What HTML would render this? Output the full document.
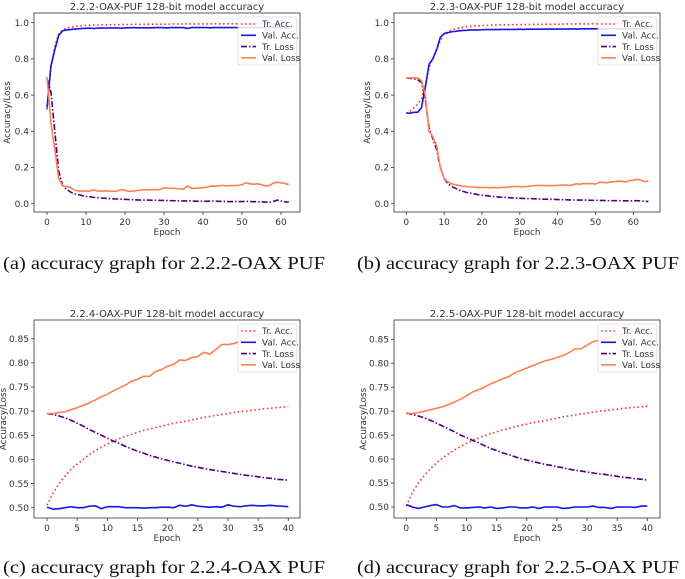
<!DOCTYPE html>
<html><head><meta charset="utf-8"><style>
html,body{margin:0;padding:0;background:#fff;width:685px;height:579px;overflow:hidden}
svg{position:absolute;left:0;top:0}
text{font-family:"DejaVu Sans","Liberation Sans",sans-serif;fill:#333}
.cap{font-family:"Liberation Serif",serif;font-size:18px;fill:#111}
</style></head><body>
<svg id="fig" width="685" height="579"></svg>
<script>
// Panel a (2.2.2)
const aTrAcc=[0.52,0.75,0.87,0.94,0.96,0.97,0.975,0.978,0.981,0.983,0.985,0.986,0.987,0.987,0.988,0.988,0.989,0.989,0.99,0.99,0.99,0.99,0.991,0.991,0.991,0.991,0.992,0.992,0.992,0.992,0.992,0.992,0.993,0.993,0.993,0.993,0.993,0.993,0.993,0.993,0.993,0.993,0.994,0.994,0.994,0.994,0.994,0.994,0.994,0.994,0.994,0.994,0.994,0.994,0.995,0.995,0.995,0.995,0.995,0.995,0.995,0.995,0.995];
const aValAcc=[0.53,0.76,0.85,0.93,0.955,0.96,0.962,0.965,0.966,0.968,0.969,0.97,0.968,0.97,0.971,0.97,0.971,0.971,0.971,0.97,0.971,0.972,0.973,0.972,0.972,0.972,0.972,0.972,0.973,0.973,0.972,0.972,0.973,0.973,0.973,0.973,0.968,0.973,0.973,0.973,0.973,0.973,0.972,0.973,0.973,0.973,0.973,0.973,0.973,0.973,0.973,0.972,0.973,0.973,0.973,0.973,0.972,0.973,0.973,0.973,0.972,0.972,0.972];
const aTrLoss=[0.69,0.62,0.40,0.18,0.10,0.08,0.065,0.055,0.05,0.045,0.04,0.038,0.035,0.033,0.031,0.03,0.028,0.027,0.026,0.025,0.024,0.023,0.022,0.021,0.02,0.02,0.02,0.019,0.019,0.018,0.018,0.017,0.017,0.016,0.016,0.015,0.015,0.015,0.014,0.014,0.014,0.013,0.015,0.014,0.013,0.013,0.012,0.012,0.012,0.012,0.012,0.013,0.012,0.011,0.011,0.01,0.009,0.007,0.012,0.02,0.015,0.01,0.01];
const aValLoss=[0.70,0.45,0.30,0.14,0.10,0.095,0.09,0.075,0.07,0.07,0.07,0.07,0.077,0.07,0.07,0.071,0.07,0.068,0.07,0.078,0.074,0.068,0.07,0.073,0.075,0.077,0.076,0.078,0.077,0.078,0.088,0.086,0.085,0.084,0.082,0.08,0.098,0.085,0.085,0.087,0.088,0.092,0.098,0.096,0.098,0.102,0.098,0.1,0.1,0.102,0.105,0.115,0.11,0.108,0.11,0.105,0.098,0.1,0.113,0.12,0.115,0.112,0.105];
// Panel b (2.2.3)
const bTrAcc=[0.50,0.51,0.53,0.55,0.58,0.65,0.75,0.80,0.85,0.90,0.94,0.95,0.96,0.965,0.97,0.975,0.978,0.98,0.982,0.983,0.984,0.985,0.986,0.987,0.987,0.988,0.988,0.989,0.989,0.99,0.99,0.99,0.99,0.991,0.991,0.991,0.991,0.992,0.992,0.992,0.992,0.992,0.993,0.993,0.993,0.993,0.993,0.993,0.993,0.994,0.994,0.994,0.994,0.994,0.994,0.994,0.994,0.995,0.995,0.995,0.995,0.995,0.995,0.995,0.995];
const bValAcc=[0.50,0.50,0.505,0.505,0.53,0.64,0.77,0.80,0.85,0.92,0.94,0.945,0.95,0.952,0.955,0.957,0.958,0.96,0.96,0.96,0.961,0.962,0.962,0.962,0.962,0.963,0.963,0.963,0.963,0.963,0.964,0.963,0.964,0.964,0.964,0.964,0.964,0.965,0.965,0.964,0.965,0.965,0.965,0.965,0.966,0.965,0.966,0.966,0.966,0.966,0.966,0.966,0.966,0.967,0.966,0.966,0.966,0.966,0.967,0.967,0.966,0.967,0.967,0.967,0.967];
const bTrLoss=[0.695,0.693,0.69,0.685,0.67,0.58,0.42,0.36,0.30,0.20,0.14,0.11,0.095,0.085,0.075,0.068,0.062,0.058,0.054,0.05,0.047,0.045,0.042,0.04,0.038,0.036,0.035,0.034,0.032,0.031,0.03,0.029,0.028,0.028,0.027,0.026,0.025,0.025,0.024,0.024,0.023,0.022,0.022,0.021,0.021,0.02,0.02,0.02,0.019,0.019,0.018,0.018,0.018,0.017,0.017,0.017,0.017,0.016,0.016,0.016,0.016,0.017,0.015,0.014,0.012];
const bValLoss=[0.695,0.695,0.695,0.695,0.68,0.60,0.40,0.37,0.32,0.20,0.14,0.12,0.11,0.105,0.10,0.097,0.095,0.093,0.092,0.09,0.09,0.09,0.088,0.09,0.088,0.09,0.09,0.092,0.095,0.095,0.094,0.093,0.095,0.098,0.1,0.102,0.1,0.1,0.1,0.1,0.102,0.102,0.104,0.1,0.105,0.11,0.108,0.112,0.11,0.112,0.108,0.118,0.118,0.115,0.12,0.122,0.125,0.123,0.12,0.128,0.13,0.135,0.13,0.122,0.125];
// Panel c (2.2.4)
const cTrAcc=[0.505,0.53,0.55,0.565,0.58,0.59,0.60,0.61,0.618,0.625,0.632,0.638,0.643,0.648,0.652,0.656,0.66,0.663,0.666,0.669,0.672,0.675,0.677,0.679,0.682,0.684,0.687,0.689,0.691,0.693,0.695,0.697,0.699,0.70,0.702,0.703,0.705,0.706,0.707,0.708,0.71];
const cValAcc=[0.501,0.497,0.498,0.5,0.502,0.5,0.5,0.503,0.504,0.498,0.502,0.502,0.502,0.5,0.5,0.5,0.499,0.5,0.5,0.501,0.501,0.5,0.505,0.503,0.506,0.503,0.502,0.501,0.502,0.501,0.506,0.503,0.502,0.504,0.505,0.504,0.504,0.505,0.504,0.503,0.502];
const cTrLoss=[0.695,0.693,0.69,0.686,0.681,0.675,0.669,0.662,0.656,0.65,0.644,0.638,0.633,0.627,0.622,0.617,0.613,0.608,0.605,0.601,0.598,0.595,0.592,0.589,0.586,0.584,0.581,0.579,0.577,0.575,0.573,0.571,0.569,0.567,0.566,0.564,0.562,0.561,0.559,0.558,0.557];
const cValLoss=[0.695,0.695,0.697,0.699,0.703,0.707,0.712,0.717,0.723,0.73,0.735,0.742,0.748,0.754,0.762,0.766,0.772,0.772,0.782,0.786,0.793,0.797,0.806,0.805,0.811,0.813,0.822,0.818,0.828,0.838,0.838,0.84,0.845,0.85,0.855,0.86,0.86,0.862,0.865,0.868,0.87];
// Panel d (2.2.5)
const dTrAcc=[0.502,0.53,0.55,0.566,0.58,0.592,0.602,0.611,0.619,0.626,0.633,0.639,0.644,0.649,0.653,0.657,0.661,0.664,0.667,0.67,0.673,0.676,0.678,0.68,0.683,0.685,0.688,0.69,0.692,0.694,0.696,0.698,0.7,0.701,0.703,0.704,0.706,0.707,0.708,0.709,0.711];
const dValAcc=[0.505,0.5,0.497,0.5,0.503,0.505,0.5,0.5,0.503,0.498,0.498,0.499,0.5,0.498,0.5,0.497,0.498,0.5,0.5,0.498,0.498,0.5,0.497,0.5,0.5,0.5,0.497,0.498,0.5,0.5,0.5,0.502,0.499,0.499,0.497,0.5,0.5,0.5,0.499,0.502,0.502];
const dTrLoss=[0.696,0.693,0.69,0.686,0.681,0.675,0.669,0.663,0.657,0.65,0.645,0.639,0.634,0.628,0.622,0.618,0.613,0.609,0.605,0.601,0.598,0.595,0.592,0.589,0.587,0.584,0.582,0.579,0.577,0.575,0.573,0.571,0.569,0.568,0.566,0.564,0.562,0.561,0.559,0.558,0.556];
const dValLoss=[0.695,0.695,0.697,0.7,0.703,0.706,0.709,0.714,0.719,0.725,0.732,0.74,0.745,0.75,0.757,0.762,0.768,0.772,0.78,0.785,0.79,0.795,0.8,0.805,0.808,0.812,0.816,0.822,0.83,0.83,0.838,0.845,0.848,0.85,0.855,0.86,0.862,0.865,0.866,0.868,0.87];

const yTicksA=[0.0,0.2,0.4,0.6,0.8,1.0];
const yTicksC=[0.50,0.55,0.60,0.65,0.70,0.75,0.80,0.85];
const xTicksA=[0,10,20,30,40,50,60];
const xTicksC=[0,5,10,15,20,25,30,35,40];

const NS='http://www.w3.org/2000/svg';
const fig=document.getElementById('fig');
function mk(tag,attrs,parent){const e=document.createElementNS(NS,tag);for(const k in attrs)e.setAttribute(k,attrs[k]);(parent||fig).appendChild(e);return e;}

const styles=[
 {name:'Tr. Acc.',color:'#ff3030',dash:'1.6,2.6'},
 {name:'Val. Acc.',color:'#1515e6',dash:''},
 {name:'Tr. Loss',color:'#4b0082',dash:'6,2,1.5,2'},
 {name:'Val. Loss',color:'#ff7f50',dash:''}
];

function panel(p){
  const g=mk('g',{});
  
  
  const X=v=>p.x0+(v-p.xv0)*(p.x1-p.x0)/(p.xv1-p.xv0);
  const Y=v=>p.y0+(v-p.yv0)*(p.y1-p.y0)/(p.yv1-p.yv0);
  const t=mk('text',{x:(p.L+p.R)/2,y:p.T-3,'text-anchor':'middle','font-size':10},g);t.textContent=p.title;
  
  p.yt.forEach(v=>{const y=Y(v);mk('line',{x1:p.L-3,x2:p.L,y1:y,y2:y,stroke:'#333','stroke-width':0.8},g);
    const tx=mk('text',{x:p.L-5,y:y+3.2,'text-anchor':'end','font-size':9},g);tx.textContent=v.toFixed(p.yd);
    });
  p.xt.forEach(v=>{const x=X(v);mk('line',{x1:x,x2:x,y1:p.B,y2:p.B+3,stroke:'#333','stroke-width':0.8},g);
    const tx=mk('text',{x:x,y:p.B+13,'text-anchor':'middle','font-size':9},g);tx.textContent=v;
    });
  const xl=mk('text',{x:(p.L+p.R)/2,y:p.B+23,'text-anchor':'middle','font-size':8.8},g);xl.textContent='Epoch';
  
  const yx=p.L-p.ylo,yy=(p.T+p.B)/2;
  const yl=mk('text',{x:yx,y:yy,'text-anchor':'middle','font-size':8.8,transform:`rotate(-90 ${yx} ${yy})`},g);yl.textContent='Accuracy/Loss';
  
  p.series.forEach((s,i)=>{
    const st=styles[i];
    const d=s.map((v,k)=>(k?'L':'M')+X(k).toFixed(2)+','+Y(v).toFixed(2)).join('');
    const pa=mk('path',{d:d,fill:'none',stroke:st.color,'stroke-width':1.6,'stroke-dasharray':st.dash,'stroke-linejoin':'round'},g);
    
    
  });
  mk('rect',{x:p.L,y:p.T,width:p.R-p.L,height:p.B-p.T,fill:'none',stroke:'#333','stroke-width':0.8},g);
  const lg=mk('g',{},g);
  
  const lx=p.R-62,ly=p.T+4;
  mk('rect',{x:lx,y:ly,width:59,height:48,fill:'#fff','fill-opacity':0.85,stroke:'#ccc','stroke-width':0.6,rx:2},lg);
  styles.forEach((st,i)=>{const yy=ly+7+i*11.3;
    mk('line',{x1:lx+3,x2:lx+18,y1:yy,y2:yy,stroke:st.color,'stroke-width':1.6,'stroke-dasharray':st.dash},lg);
    const tx=mk('text',{x:lx+24,y:yy+3.2,'font-size':8.8},lg);tx.textContent=st.name;
    });
  const c=mk('text',{x:p.capx,y:p.capy,class:'cap',textLength:322,lengthAdjust:'spacingAndGlyphs'});c.textContent=p.cap;
  
}

panel({id:'chart-a',title:'2.2.2-OAX-PUF 128-bit model accuracy',L:34,R:300,T:13,B:212,x0:47,x1:281,xv0:0,xv1:60,y0:203.7,y1:22.7,yv0:0,yv1:1,yt:yTicksA,yd:1,xt:xTicksA,ylo:24,series:[aTrAcc,aValAcc,aTrLoss,aValLoss],cap:'(a) accuracy graph for 2.2.2-OAX PUF',capx:3,capy:269});
panel({id:'chart-b',title:'2.2.3-OAX-PUF 128-bit model accuracy',L:394,R:660,T:13,B:212,x0:406.3,x1:633.3,xv0:0,xv1:60,y0:203.7,y1:22.7,yv0:0,yv1:1,yt:yTicksA,yd:1,xt:xTicksA,ylo:24,series:[bTrAcc,bValAcc,bTrLoss,bValLoss],cap:'(b) accuracy graph for 2.2.3-OAX PUF',capx:357,capy:269});
panel({id:'chart-c',title:'2.2.4-OAX-PUF 128-bit model accuracy',L:34,R:300,T:320,B:518,x0:47,x1:288.3,xv0:0,xv1:40,y0:507.7,y1:338.7,yv0:0.5,yv1:0.85,yt:yTicksC,yd:2,xt:xTicksC,ylo:28,series:[cTrAcc,cValAcc,cTrLoss,cValLoss],cap:'(c) accuracy graph for 2.2.4-OAX PUF',capx:3,capy:573});
panel({id:'chart-d',title:'2.2.5-OAX-PUF 128-bit model accuracy',L:394,R:660,T:320,B:518,x0:406.3,x1:647.3,xv0:0,xv1:40,y0:507,y1:339.3,yv0:0.5,yv1:0.85,yt:yTicksC,yd:2,xt:xTicksC,ylo:28,series:[dTrAcc,dValAcc,dTrLoss,dValLoss],cap:'(d) accuracy graph for 2.2.5-OAX PUF',capx:357,capy:573});
</script>
</body></html>
